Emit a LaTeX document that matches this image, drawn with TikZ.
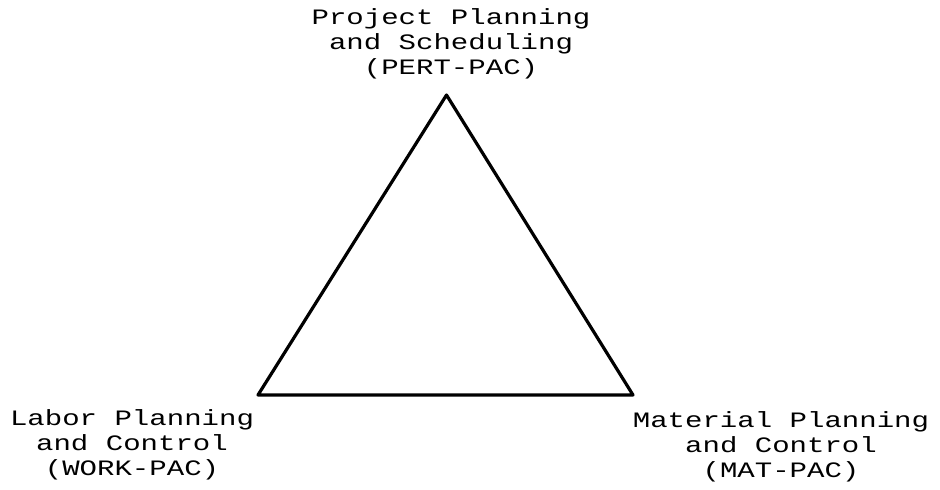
\documentclass[tikz,border=0pt]{standalone}
\usepackage{fontspec}
\setmonofont{Liberation Mono}
\begin{document}
\begin{tikzpicture}[x=1pt,y=1pt,
  lbl/.style={font=\ttfamily\fontsize{22}{25}\selectfont, align=center, inner sep=0pt, anchor=north, xscale=1.32, transform shape},
  edge/.style={line width=3.2pt, line join=round, line cap=round}]
\useasboundingbox (0,0) rectangle (940,490);
\coordinate (top) at (446.5,395);
\coordinate (bl) at (258,95);
\coordinate (br) at (633,95);
\draw[edge] (top) -- (bl) -- (br) -- cycle;
\node[lbl] (pert) at (451,482) {Project Planning\\and Scheduling\\(PERT-PAC)};
\node[lbl] (work) at (132,81) {Labor Planning\\and Control\\(WORK-PAC)};
\node[lbl] (mat) at (781,79) {Material Planning\\and Control\\(MAT-PAC)};
\end{tikzpicture}
\end{document}
